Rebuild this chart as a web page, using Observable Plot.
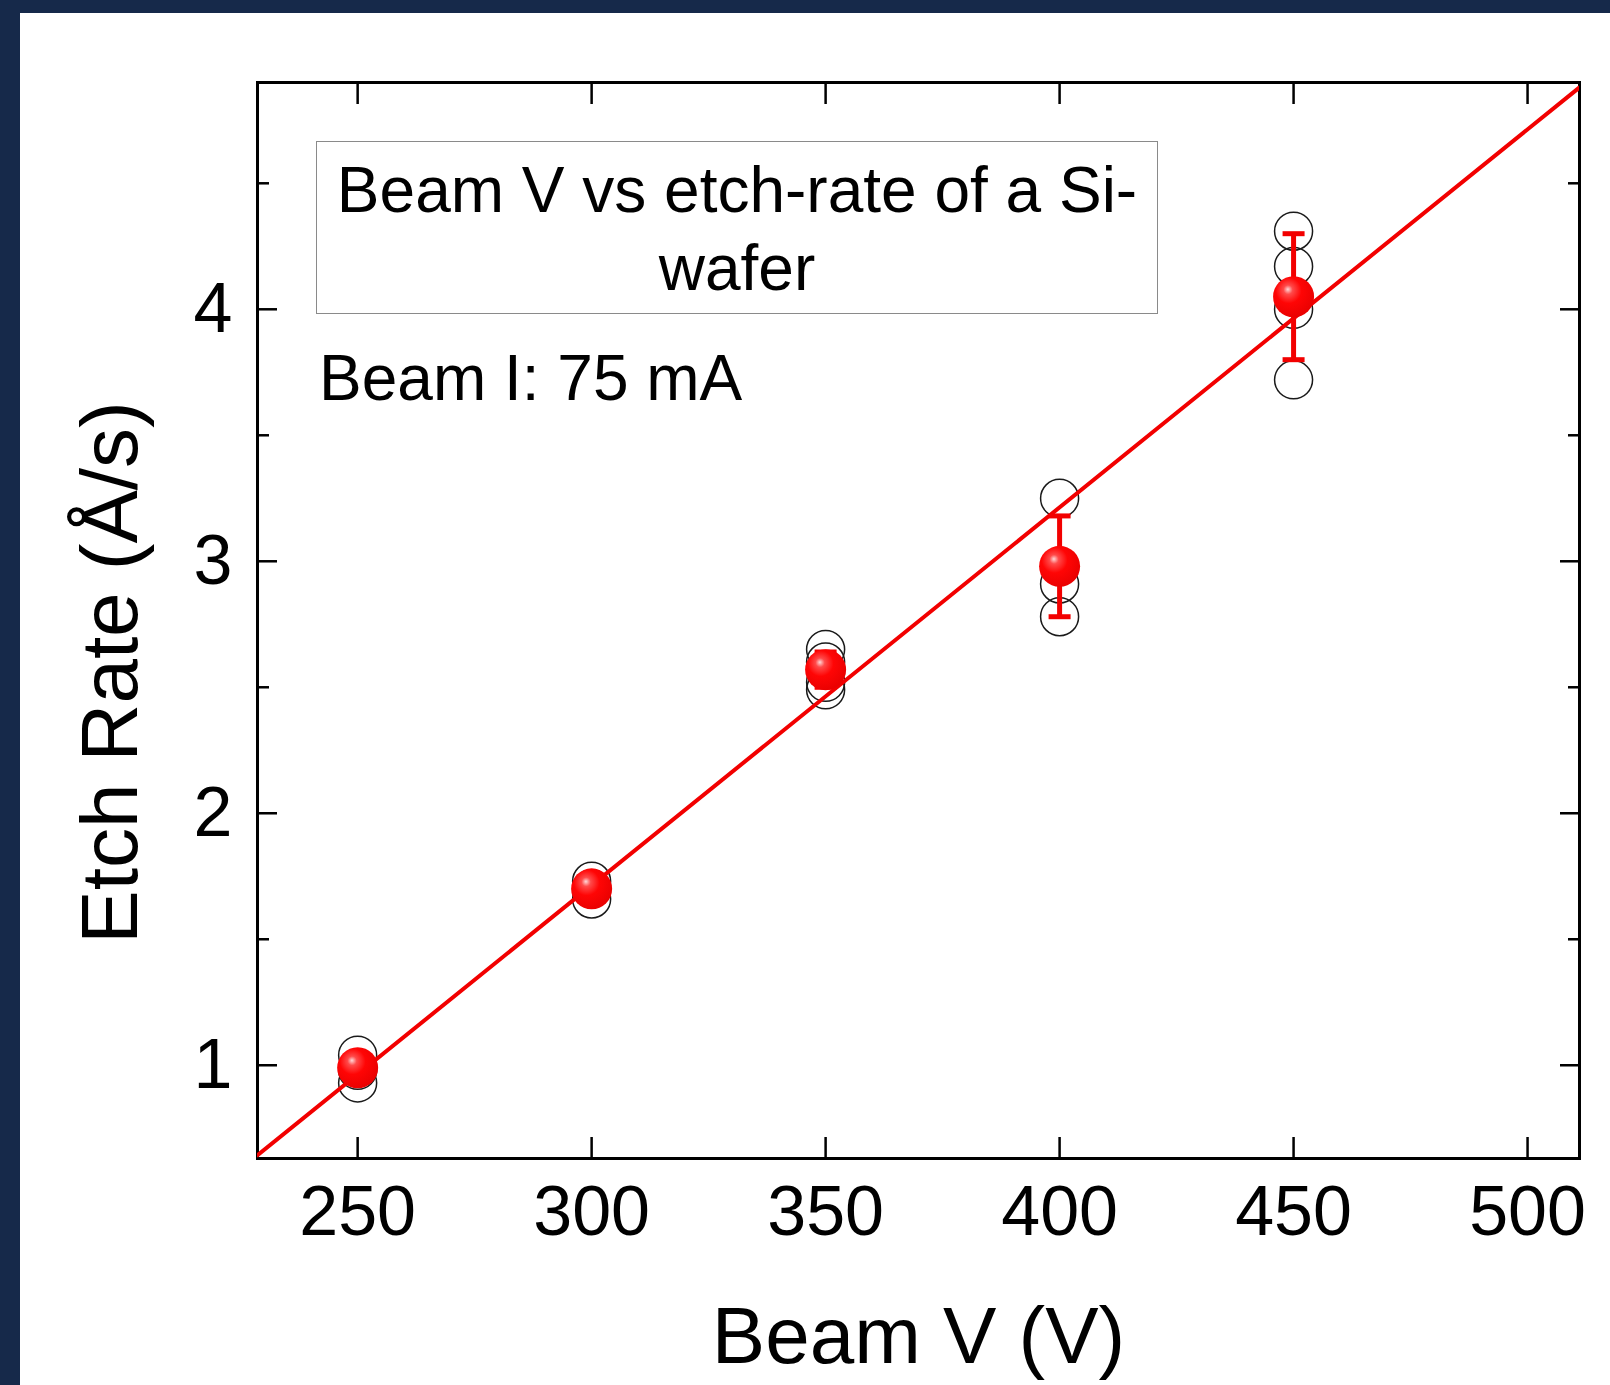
<!DOCTYPE html>
<html><head><meta charset="utf-8">
<script src="https://cdn.jsdelivr.net/npm/d3@7"></script>
<script src="https://cdn.jsdelivr.net/npm/@observablehq/plot@0.6"></script>
<style>
html,body{margin:0;padding:0;background:#16294a;width:1610px;height:1385px;overflow:hidden;}
#wrap{position:absolute;left:20px;top:13px;width:1590px;height:1372px;background:#fff;font-family:"Liberation Sans",Arial,sans-serif;color:#000;}
#chart{position:absolute;left:0;top:0;}
#box{position:absolute;left:296px;top:128px;width:842px;height:173px;box-sizing:border-box;border:1.5px solid #8a8a8a;text-align:center;font-size:64px;line-height:78px;padding-top:9px;background:#fff;white-space:nowrap;}
#note{position:absolute;left:299px;top:333px;font-size:64px;line-height:64px;white-space:nowrap;}
</style></head>
<body><div id="wrap"><div id="chart"></div><div id="box">Beam V vs etch-rate of a Si-<br>wafer</div><div id="note">Beam I: 75 mA</div></div>
<script>
// Mean etch rate per beam voltage, with error bars
const beamV = [250, 300, 350, 400, 450];
const meanRate = [0.99, 1.70, 2.57, 2.98, 4.05];
const errRate = [0.05, 0.035, 0.07, 0.20, 0.25];

// Individual measurements (open circles)
const rawV = [250, 250, 250, 300, 300, 300, 350, 350, 350, 350, 400, 400, 400, 450, 450, 450, 450];
const rawRate = [1.04, 0.98, 0.93, 1.73, 1.70, 1.66, 2.65, 2.60, 2.52, 2.49, 3.25, 2.91, 2.78, 4.31, 4.17, 4.00, 3.72];

// Linear fit
const fitIntercept = 0.964; // value at 250 V
const fitSlope = 0.0150;

const xDomain = [228.6, 511.1];
const yDomain = [0.63, 4.90];
const xTicks = [250, 300, 350, 400, 450, 500];
const yTicks = [1, 2, 3, 4];
const yMinorTicks = [1.5, 2.5, 3.5, 4.5];

const means = beamV.map((v, i) => ({v, r: meanRate[i], e: errRate[i]}));
const raw = rawV.map((v, i) => ({v, r: rawRate[i]}));
const fit = xDomain.map(v => ({v, r: fitIntercept + fitSlope * (v - 250)}));

const capSymbol = {draw(ctx, size) { const w = Math.sqrt(size / Math.PI); ctx.moveTo(-w, 0); ctx.lineTo(w, 0); }};
const red = "#f20000";
const font = "'Liberation Sans', Arial, sans-serif";
const noLabel = () => "";

const chart = Plot.plot({
  width: 1590, height: 1372,
  marginLeft: 237, marginTop: 69, marginRight: 31, marginBottom: 227,
  x: {domain: xDomain},
  y: {domain: yDomain},
  style: {fontFamily: font, fontSize: "70px", color: "#000", background: "transparent", overflow: "visible"},
  marks: [
    // tick labels
    Plot.axisX(xTicks, {anchor: "bottom", tickSize: 0, tickPadding: 27, fontSize: 70, tickFormat: d3.format("d"), label: null}),
    Plot.axisY(yTicks, {anchor: "left", tickSize: 0, tickPadding: 25, fontSize: 70, tickFormat: d3.format("d"), label: null}),
    // inward ticks, all four sides
    Plot.axisX(xTicks, {anchor: "bottom", tickSize: -21, tickFormat: noLabel, strokeWidth: 2.5, label: null}),
    Plot.axisX(xTicks, {anchor: "top", tickSize: -21, tickFormat: noLabel, strokeWidth: 2.5, label: null}),
    Plot.axisY(yTicks, {anchor: "left", tickSize: -20, tickFormat: noLabel, strokeWidth: 2.5, label: null}),
    Plot.axisY(yTicks, {anchor: "right", tickSize: -20, tickFormat: noLabel, strokeWidth: 2.5, label: null}),
    Plot.axisY(yMinorTicks, {anchor: "left", tickSize: -12, tickFormat: noLabel, strokeWidth: 2.5, label: null}),
    Plot.axisY(yMinorTicks, {anchor: "right", tickSize: -12, tickFormat: noLabel, strokeWidth: 2.5, label: null}),
    Plot.frame({stroke: "#000", strokeWidth: 3}),
    // axis titles
    Plot.text(["Beam V (V)"], {text: d => d, frameAnchor: "bottom", dy: 204, dx: 0, lineAnchor: "bottom", fontSize: 80}),
    Plot.text(["Etch Rate (Å/s)"], {text: d => d, frameAnchor: "left", textAnchor: "middle", rotate: -90, dx: -121, dy: 52, lineAnchor: "bottom", fontSize: 80}),
    // data
    Plot.dot(raw, {x: "v", y: "r", r: 19, stroke: "#1a1a1a", strokeWidth: 1.5, fill: "none"}),
    Plot.line(fit, {x: "v", y: "r", stroke: red, strokeWidth: 4, clip: true}),
    Plot.ruleX(means, {x: "v", y1: d => d.r - d.e, y2: d => d.r + d.e, stroke: red, strokeWidth: 5}),
    Plot.dot(means, {x: "v", y: d => d.r + d.e, symbol: capSymbol, r: 11, stroke: red, strokeWidth: 5, fill: "none"}),
    Plot.dot(means, {x: "v", y: d => d.r - d.e, symbol: capSymbol, r: 11, stroke: red, strokeWidth: 5, fill: "none"}),
    Plot.dot(means, {x: "v", y: "r", r: 20.5, fill: "url(#redGloss)", stroke: "none"})
  ]
});

// glossy gradient for the mean markers
const svg = d3.select(chart);
const defs = svg.insert("defs", ":first-child");
const g = defs.append("radialGradient").attr("id", "redGloss").attr("cx", "0.4").attr("cy", "0.38").attr("r", "0.7").attr("fx", "0.36").attr("fy", "0.32");
g.append("stop").attr("offset", "0").attr("stop-color", "#ffd8d8");
g.append("stop").attr("offset", "0.16").attr("stop-color", "#ff4a4a");
g.append("stop").attr("offset", "0.45").attr("stop-color", "#ff0505");
g.append("stop").attr("offset", "1").attr("stop-color", "#e60000");

document.getElementById("chart").appendChild(chart);
</script>
</body></html>
